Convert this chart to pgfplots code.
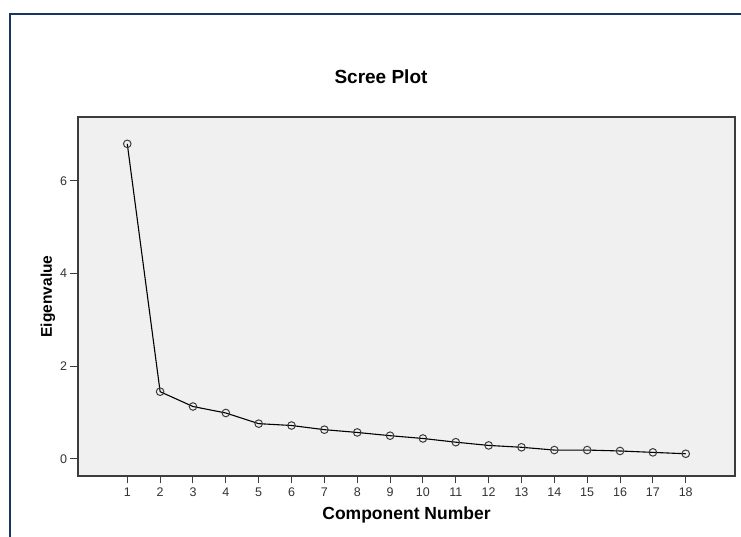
\documentclass[border=0pt]{standalone}
\usepackage{fontspec}
\setmainfont{Liberation Sans}
\usepackage{pgfplots}
\pgfplotsset{compat=1.18}
\definecolor{frameblue}{RGB}{23,55,94}
\definecolor{plotbg}{RGB}{240,240,240}
\definecolor{boxgray}{RGB}{60,60,60}
\begin{document}
\begin{tikzpicture}[x=1pt,y=1pt]
\path[use as bounding box] (0,0) rectangle (741,537);
\draw[frameblue,line width=2.2pt] (10,0) -- (10,523) -- (741,523);
\node[font=\bfseries\fontsize{19}{21}\selectfont] at (381,460) {Scree Plot};
\begin{axis}[
  at={(78pt,61pt)}, anchor=south west,
  scale only axis, width=657pt, height=359pt,
  xmin=-0.5, xmax=19.5, ymin=-0.37, ymax=7.38,
  xtick={1,...,18}, ytick={0,2,4,6},
  axis background/.style={fill=plotbg},
  axis line style={boxgray, line width=1.1pt},
  tick style={boxgray, line width=1pt},
  major tick length=7.5pt,
  tick align=outside,
  xtick pos=bottom, ytick pos=left,
  /pgf/number format/assume math mode=true,
  ticklabel style={font=\fontsize{12.5}{14}\selectfont, text=black!80},
  xlabel={Component Number},
  ylabel={Eigenvalue},
  xlabel style={font=\bfseries\fontsize{17.5}{19}\selectfont, at={(axis description cs:0.5,0)}, anchor=center, yshift=-39pt},
  ylabel style={font=\bfseries\fontsize{15.5}{18}\selectfont, at={(axis description cs:0,0.5)}, anchor=center, yshift=30pt},
  xticklabel style={yshift=-0.5pt},
  clip=false,
]
\addplot[black, line width=1.1pt, mark=o, mark size=3.8pt, mark options={boxgray, line width=1pt, fill=none}]
coordinates {
(1,6.80) (2,1.45) (3,1.13) (4,0.99) (5,0.76) (6,0.72) (7,0.63) (8,0.57) (9,0.50)
(10,0.44) (11,0.36) (12,0.29) (13,0.25) (14,0.19) (15,0.19) (16,0.17) (17,0.14) (18,0.11)
};
\end{axis}
\end{tikzpicture}
\end{document}
